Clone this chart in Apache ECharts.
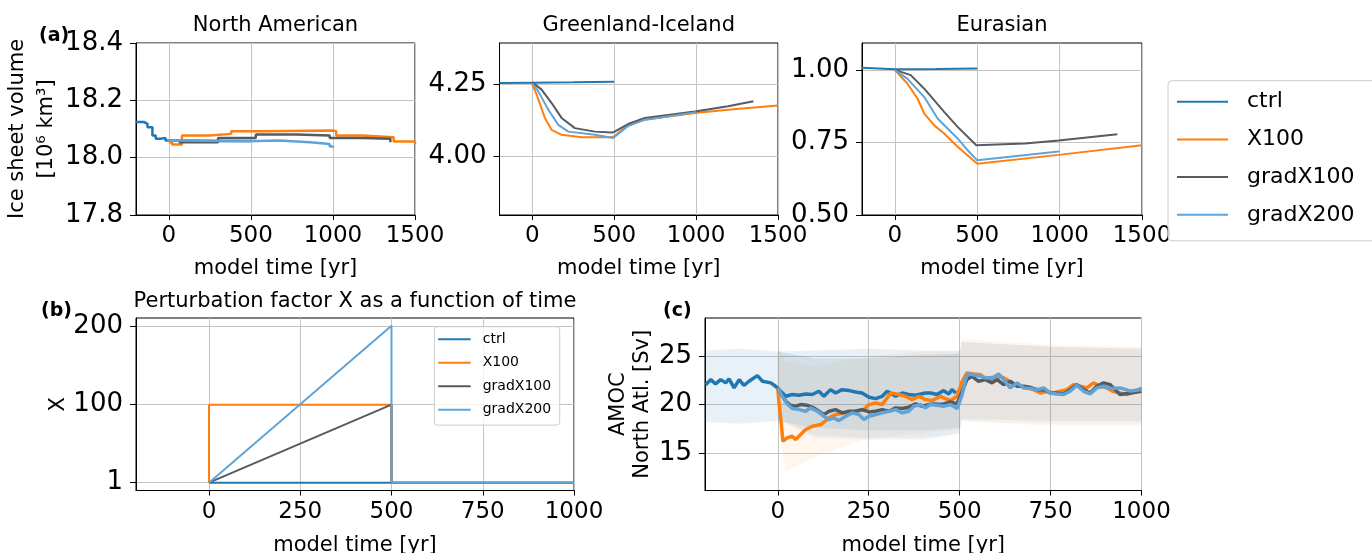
<!DOCTYPE html>
<html>
<head>
<meta charset="utf-8">
<title>Ice sheet volume, perturbation factor and AMOC</title>
<script src="https://cdn.jsdelivr.net/npm/echarts@6.0.0/dist/echarts.min.js"></script>
<style>
  html, body { margin: 0; padding: 0; background: #fff; }
  #chart { width: 1372px; height: 553px; }
</style>
</head>
<body>
<div id="chart"></div>
<script>
const FONT = 'DejaVu Sans'
const COLORS = { ctrl: '#1f77b4', X100: '#ff7f0e', gradX100: '#555b63', gradX200: '#5fa4d8' }
const NAMES = ['ctrl', 'X100', 'gradX100', 'gradX200']

// (a) North American ice volume [10^6 km3]
const naCtrlT = [-200, -150, -130, -100, -80, -50, -20, 100, 300, 500]
const naCtrlV = [18.124, 18.118, 18.106, 18.077, 18.066, 18.069, 18.060, 18.058, 18.058, 18.058]
const naX100T = [0, 20, 80, 250, 380, 570, 1000, 1020, 1180, 1370, 1500]
const naX100V = [18.054, 18.046, 18.077, 18.083, 18.092, 18.095, 18.092, 18.077, 18.071, 18.056, 18.048]
const naGrad1T = [60, 300, 530, 780, 980, 1180, 1350]
const naGrad1V = [18.054, 18.069, 18.081, 18.077, 18.069, 18.066, 18.054]
const naGrad2T = [-10, 100, 470, 670, 860, 980, 1000]
const naGrad2V = [18.060, 18.057, 18.060, 18.054, 18.048, 18.039, 18.035]

// (a) Greenland-Iceland
const grCtrlT = [-200, 0, 250, 500]
const grCtrlV = [4.253, 4.254, 4.255, 4.257]
const grX100T = [0, 27, 77, 118, 179, 301, 484, 500, 585, 687, 992, 1195, 1500]
const grX100V = [4.248, 4.213, 4.133, 4.092, 4.075, 4.067, 4.067, 4.070, 4.109, 4.127, 4.150, 4.161, 4.176]
const grGrad1T = [0, 57, 118, 179, 260, 382, 484, 500, 585, 687, 992, 1195, 1350]
const grGrad1V = [4.255, 4.230, 4.184, 4.133, 4.098, 4.086, 4.083, 4.085, 4.112, 4.133, 4.155, 4.173, 4.190]
const grGrad2T = [0, 37, 98, 159, 220, 382, 494, 500, 585, 687, 992, 1000]
const grGrad2V = [4.252, 4.224, 4.161, 4.109, 4.086, 4.075, 4.064, 4.067, 4.105, 4.127, 4.152, 4.153]

// (a) Eurasian
const euCtrlT = [-200, -100, 0, 250, 500]
const euCtrlV = [1.009, 1.007, 1.004, 1.005, 1.007]
const euX100T = [0, 75, 137, 178, 239, 300, 382, 500, 994, 1500]
const euX100V = [1.001, 0.955, 0.903, 0.851, 0.810, 0.781, 0.735, 0.677, 0.708, 0.741]
const euGrad1T = [0, 96, 178, 300, 382, 494, 500, 790, 994, 1350]
const euGrad1V = [1.002, 0.984, 0.937, 0.856, 0.804, 0.741, 0.737, 0.747, 0.758, 0.779]
const euGrad2T = [0, 75, 178, 260, 382, 443, 500, 994, 1000]
const euGrad2V = [1.001, 0.972, 0.908, 0.833, 0.764, 0.723, 0.689, 0.720, 0.721]

// (b) perturbation factor X
const xCtrlT = [0, 1000]
const xCtrlV = [1, 1]
const xX100T = [0, 0, 500, 500, 1000]
const xX100V = [1, 100, 100, 1, 1]
const xGrad1T = [0, 500, 500, 1000]
const xGrad1V = [1, 100, 1, 1]
const xGrad2T = [0, 500, 500, 1000]
const xGrad2V = [1, 200, 1, 1]

// (c) AMOC North Atl. [Sv], running means
const amCtrlT = [-198, -184, -171, -157, -143, -134, -120, -106, -93, -79, -56, -42, -19, -6, 8, 22, 40, 58, 77, 95, 113, 127, 145, 159, 177, 196, 214, 232, 251, 269, 287, 301, 324, 342, 360, 379, 406, 420, 438, 456, 470, 479, 490]
const amCtrlV = [22.07, 22.59, 22.14, 22.59, 22.25, 22.66, 21.73, 22.59, 22.0, 22.42, 23.0, 22.42, 22.25, 21.9, 21.38, 20.86, 21.04, 20.97, 21.1, 21.04, 21.38, 20.86, 21.55, 21.2, 21.55, 21.45, 21.31, 21.2, 20.76, 20.62, 20.86, 21.38, 20.86, 21.2, 21.04, 20.97, 21.2, 21.2, 21.04, 21.45, 21.1, 21.55, 21.2]
const amX100T = [0, 3, 10, 14, 26, 40, 49, 63, 77, 95, 118, 141, 159, 187, 214, 237, 251, 269, 287, 301, 310, 333, 351, 369, 388, 406, 425, 447, 456, 475, 493, 507, 520, 539, 557, 575, 593, 612, 630, 648, 667, 685, 703, 722, 740, 758, 777, 795, 813, 832, 850, 868, 887, 905, 921, 941, 960, 980, 1000]
const amX100V = [21.73, 20.35, 17.93, 16.2, 16.55, 16.72, 16.38, 16.9, 17.41, 17.76, 17.93, 18.62, 18.96, 19.14, 19.31, 19.48, 20.0, 20.17, 20.0, 20.69, 21.2, 21.04, 20.86, 20.52, 20.86, 20.52, 20.41, 20.86, 20.69, 20.41, 20.86, 22.42, 23.28, 23.17, 23.1, 22.59, 22.42, 22.93, 22.59, 22.07, 21.9, 21.73, 21.55, 21.2, 21.38, 21.2, 21.38, 21.55, 22.07, 21.9, 21.73, 22.25, 21.9, 21.73, 21.38, 21.2, 21.04, 21.3, 21.73]
const amGrad1T = [0, 8, 22, 35, 49, 63, 81, 99, 113, 127, 141, 159, 177, 196, 214, 232, 251, 269, 287, 306, 324, 342, 360, 379, 397, 415, 433, 447, 456, 475, 493, 507, 520, 534, 552, 571, 589, 603, 621, 639, 658, 676, 694, 713, 731, 749, 767, 786, 804, 822, 841, 859, 877, 896, 914, 941, 970, 1000]
const amGrad1V = [21.73, 21.2, 20.35, 19.93, 19.83, 20.0, 19.93, 19.66, 19.31, 18.96, 19.31, 19.48, 19.14, 19.31, 19.31, 19.48, 19.24, 19.31, 19.48, 19.31, 19.66, 19.59, 19.73, 20.07, 19.83, 20.0, 20.07, 20.0, 20.07, 20.28, 20.07, 21.38, 22.59, 22.93, 22.42, 22.59, 22.25, 22.59, 22.07, 22.42, 21.9, 21.9, 21.79, 21.55, 21.55, 21.2, 21.2, 21.1, 21.55, 22.07, 21.55, 21.2, 21.9, 22.25, 22.07, 21.04, 21.2, 21.38]
const amGrad2T = [0, 10, 26, 40, 58, 77, 90, 109, 127, 141, 154, 168, 187, 205, 223, 237, 251, 269, 287, 306, 324, 342, 360, 374, 392, 406, 420, 438, 456, 475, 493, 507, 520, 539, 557, 575, 593, 607, 621, 639, 658, 676, 694, 713, 731, 749, 767, 786, 804, 822, 841, 859, 877, 896, 914, 941, 970, 1000]
const amGrad2V = [21.73, 21.04, 20.07, 19.59, 19.48, 19.31, 19.66, 19.31, 18.79, 18.45, 18.62, 18.34, 18.79, 19.14, 18.96, 18.45, 18.79, 18.96, 19.14, 19.31, 19.48, 19.14, 19.31, 19.83, 20.0, 19.66, 20.0, 19.93, 19.83, 20.0, 19.59, 21.04, 23.17, 23.1, 22.93, 22.76, 22.83, 23.17, 22.59, 21.73, 22.25, 21.73, 21.66, 21.55, 21.73, 21.2, 21.1, 21.04, 21.38, 22.0, 21.38, 21.1, 21.73, 21.9, 21.66, 21.73, 21.4, 21.56]

// (c) spread of the annual values (lower / upper envelope)
const bCtrlT = [-200, -100, 0, 100, 250, 400, 500]
const bCtrlLo = [18.2, 18.0, 18.3, 17.6, 17.3, 17.3, 17.6]
const bCtrlHi = [25.6, 25.8, 25.5, 25.6, 25.8, 25.6, 25.6]
const bX100T = [0, 20, 100, 250, 400, 500, 505, 750, 1000]
const bX100Lo = [19.0, 13.0, 14.5, 16.5, 17.0, 17.5, 18.3, 17.8, 17.8]
const bX100Hi = [26.5, 24.5, 24.0, 25.0, 25.5, 25.5, 26.8, 26.2, 26.0]
const bGrad1T = [0, 100, 250, 400, 500, 505, 750, 1000]
const bGrad1Lo = [18.5, 16.8, 16.5, 16.5, 17.0, 18.5, 18.3, 18.3]
const bGrad1Hi = [25.5, 24.8, 24.8, 25.2, 25.3, 26.5, 26.0, 25.8]
const bGrad2T = [0, 100, 250, 400, 500, 505, 750, 1000]
const bGrad2Lo = [18.5, 16.5, 16.3, 16.3, 17.0, 18.3, 18.0, 18.0]
const bGrad2Hi = [25.5, 24.8, 24.8, 25.0, 25.3, 26.5, 26.0, 25.8]

const pairs = (t, v) => t.map((x, i) => [x, v[i]])

const chart = echarts.init(document.getElementById('chart'))

const gridBoxes = [
  { left: 136, top: 43, width: 279, height: 172 },
  { left: 499.5, top: 43, width: 278.5, height: 172 },
  { left: 862, top: 43, width: 280, height: 172 },
  { left: 136, top: 318, width: 438, height: 172.5 },
  { left: 705, top: 318, width: 436.5, height: 172.5 }
]

function xAxisFor (gi, min, max, ticks, gap) {
  return {
    gridIndex: gi, type: 'value', min, max,
    axisLine: { show: true, onZero: false, lineStyle: { color: '#000', width: 1 } },
    axisTick: { show: true, length: 5, customValues: ticks, lineStyle: { color: '#000' } },
    axisLabel: { customValues: ticks, formatter: v => String(v), fontSize: 23, fontFamily: FONT, color: '#000', margin: 10 },
    splitLine: { show: true, lineStyle: { color: '#c4c4c4', width: 1 } },
    name: 'model time [yr]', nameLocation: 'middle', nameGap: gap,
    nameTextStyle: { fontSize: 21, fontFamily: FONT, color: '#000' }
  }
}

function yAxisFor (gi, min, max, ticks, fmt, name, gap, lh) {
  return {
    gridIndex: gi, type: 'value', min, max,
    axisLine: { show: true, onZero: false, lineStyle: { color: '#000', width: 1 } },
    axisTick: { show: true, length: 6, customValues: ticks, lineStyle: { color: '#000' } },
    axisLabel: { customValues: ticks, formatter: fmt, fontSize: 26, fontFamily: FONT, color: '#000', margin: 13 },
    splitLine: { show: true, lineStyle: { color: '#c4c4c4', width: 1 } },
    name, nameLocation: 'middle', nameRotate: 90, nameGap: gap,
    nameTextStyle: { fontSize: 21, fontFamily: FONT, color: '#000', lineHeight: lh, align: 'center' }
  }
}

function line (gi, name, t, v, width, extra) {
  return Object.assign({
    type: 'line', name, xAxisIndex: gi, yAxisIndex: gi,
    data: pairs(t, v), showSymbol: false, symbol: 'none', z: 3,
    color: COLORS[name],
    itemStyle: { color: COLORS[name] },
    lineStyle: { color: COLORS[name], width }
  }, extra || {})
}

// shaded spread of noisy annual values, drawn as one polygon per run
function band (gi, t, lo, hi, fill) {
  return {
    type: 'custom', xAxisIndex: gi, yAxisIndex: gi, silent: true, z: 1,
    data: t.map((x, i) => [x, lo[i], hi[i]]),
    encode: { x: 0, y: [1, 2] },
    renderItem: (params, api) => {
      if (params.dataIndex !== 0) return null
      const upper = t.map((x, i) => api.coord([x, hi[i]]))
      const lower = t.map((x, i) => api.coord([x, lo[i]])).reverse()
      return { type: 'polygon', shape: { points: upper.concat(lower) }, style: { fill } }
    }
  }
}

const txt = (text, x, y, size, opts) => ({
  type: 'text', x, y, z: 10,
  style: Object.assign({ text, font: `${size}px "${FONT}"`, fill: '#000', textAlign: 'center', textVerticalAlign: 'middle' }, opts || {})
})

const legendCommon = {
  orient: 'vertical', icon: 'rect', selectedMode: false, data: NAMES,
  borderColor: '#cccccc', borderWidth: 1, backgroundColor: 'rgba(255,255,255,0.8)'
}

chart.setOption({
  animation: false,
  backgroundColor: '#fff',
  grid: gridBoxes.map(g => Object.assign({ show: true, borderColor: '#000', borderWidth: 1, backgroundColor: 'transparent', containLabel: false, outerBoundsMode: 'none' }, g)),
  xAxis: [
    xAxisFor(0, -200, 1500, [0, 500, 1000, 1500], 43),
    xAxisFor(1, -200, 1500, [0, 500, 1000, 1500], 43),
    xAxisFor(2, -200, 1500, [0, 500, 1000, 1500], 43),
    xAxisFor(3, -200, 1000, [0, 250, 500, 750, 1000], 45),
    xAxisFor(4, -200, 1000, [0, 250, 500, 750, 1000], 45)
  ],
  yAxis: [
    yAxisFor(0, 17.8, 18.4, [17.8, 18.0, 18.2, 18.4], v => v.toFixed(1), 'Ice sheet volume\n[10⁶ km³]', 72, 29),
    yAxisFor(1, 3.8, 4.39, [4.0, 4.25], v => v.toFixed(2), '', 0, 21),
    yAxisFor(2, 0.5, 1.095, [0.5, 0.75, 1.0], v => v.toFixed(2), '', 0, 21),
    yAxisFor(3, -8.95, 209.95, [1, 100, 200], v => String(v), 'X', 67, 21),
    yAxisFor(4, 11.09, 28.98, [15, 20, 25], v => String(v), 'AMOC\nNorth Atl. [Sv]', 50, 24)
  ],
  legend: [
    Object.assign({}, legendCommon, {
      left: 1168, top: 80.7, padding: [10, 24, 15, 9],
      itemWidth: 51, itemHeight: 2, itemGap: 15.7, borderRadius: 4,
      textStyle: { fontSize: 22, lineHeight: 22, fontFamily: FONT, color: '#000', padding: [0, 0, 0, 14] }
    }),
    Object.assign({}, legendCommon, {
      left: 434.4, top: 326.7, padding: [5.6, 8.6, 8.3, 3.8],
      itemWidth: 32.5, itemHeight: 2, itemGap: 9.5, borderRadius: 3,
      textStyle: { fontSize: 14, lineHeight: 14, fontFamily: FONT, color: '#000', padding: [0, 0, 0, 7] }
    })
  ],
  graphic: [
    txt('North American', 275.5, 26, 21),
    txt('Greenland-Iceland', 638.7, 26, 21),
    txt('Eurasian', 1002, 26, 21),
    txt('Perturbation factor X as a function of time', 355, 302, 21),
    txt('(a)', 39, 36, 19, { textAlign: 'left', font: `bold 19px "${FONT}"` }),
    txt('(b)', 41, 311.5, 19, { textAlign: 'left', font: `bold 19px "${FONT}"` }),
    txt('(c)', 663, 311, 19, { textAlign: 'left', font: `bold 19px "${FONT}"` })
  ],
  series: [
    // (a) North American
    line(0, 'ctrl', naCtrlT, naCtrlV, 2.5, { step: 'end' }),
    line(0, 'X100', naX100T, naX100V, 2.5, { step: 'end' }),
    line(0, 'gradX100', naGrad1T, naGrad1V, 2.5, { step: 'end' }),
    line(0, 'gradX200', naGrad2T, naGrad2V, 2.5, { step: 'end' }),
    // (a) Greenland-Iceland
    line(1, 'ctrl', grCtrlT, grCtrlV, 2),
    line(1, 'X100', grX100T, grX100V, 2),
    line(1, 'gradX100', grGrad1T, grGrad1V, 2),
    line(1, 'gradX200', grGrad2T, grGrad2V, 2),
    // (a) Eurasian
    line(2, 'ctrl', euCtrlT, euCtrlV, 2),
    line(2, 'X100', euX100T, euX100V, 2),
    line(2, 'gradX100', euGrad1T, euGrad1V, 2),
    line(2, 'gradX200', euGrad2T, euGrad2V, 2),
    // (b) perturbation factor
    line(3, 'ctrl', xCtrlT, xCtrlV, 2),
    line(3, 'X100', xX100T, xX100V, 2),
    line(3, 'gradX100', xGrad1T, xGrad1V, 2),
    line(3, 'gradX200', xGrad2T, xGrad2V, 2),
    // (c) AMOC spread
    band(4, bCtrlT, bCtrlLo, bCtrlHi, 'rgba(31,119,180,0.10)'),
    band(4, bX100T, bX100Lo, bX100Hi, 'rgba(255,127,14,0.07)'),
    band(4, bGrad1T, bGrad1Lo, bGrad1Hi, 'rgba(85,91,99,0.08)'),
    band(4, bGrad2T, bGrad2Lo, bGrad2Hi, 'rgba(95,164,216,0.07)'),
    // (c) AMOC running means
    line(4, 'ctrl', amCtrlT, amCtrlV, 3.5),
    line(4, 'X100', amX100T, amX100V, 3.5),
    line(4, 'gradX100', amGrad1T, amGrad1V, 3.5),
    line(4, 'gradX200', amGrad2T, amGrad2V, 3.5)
  ]
})
</script>
</body>
</html>
